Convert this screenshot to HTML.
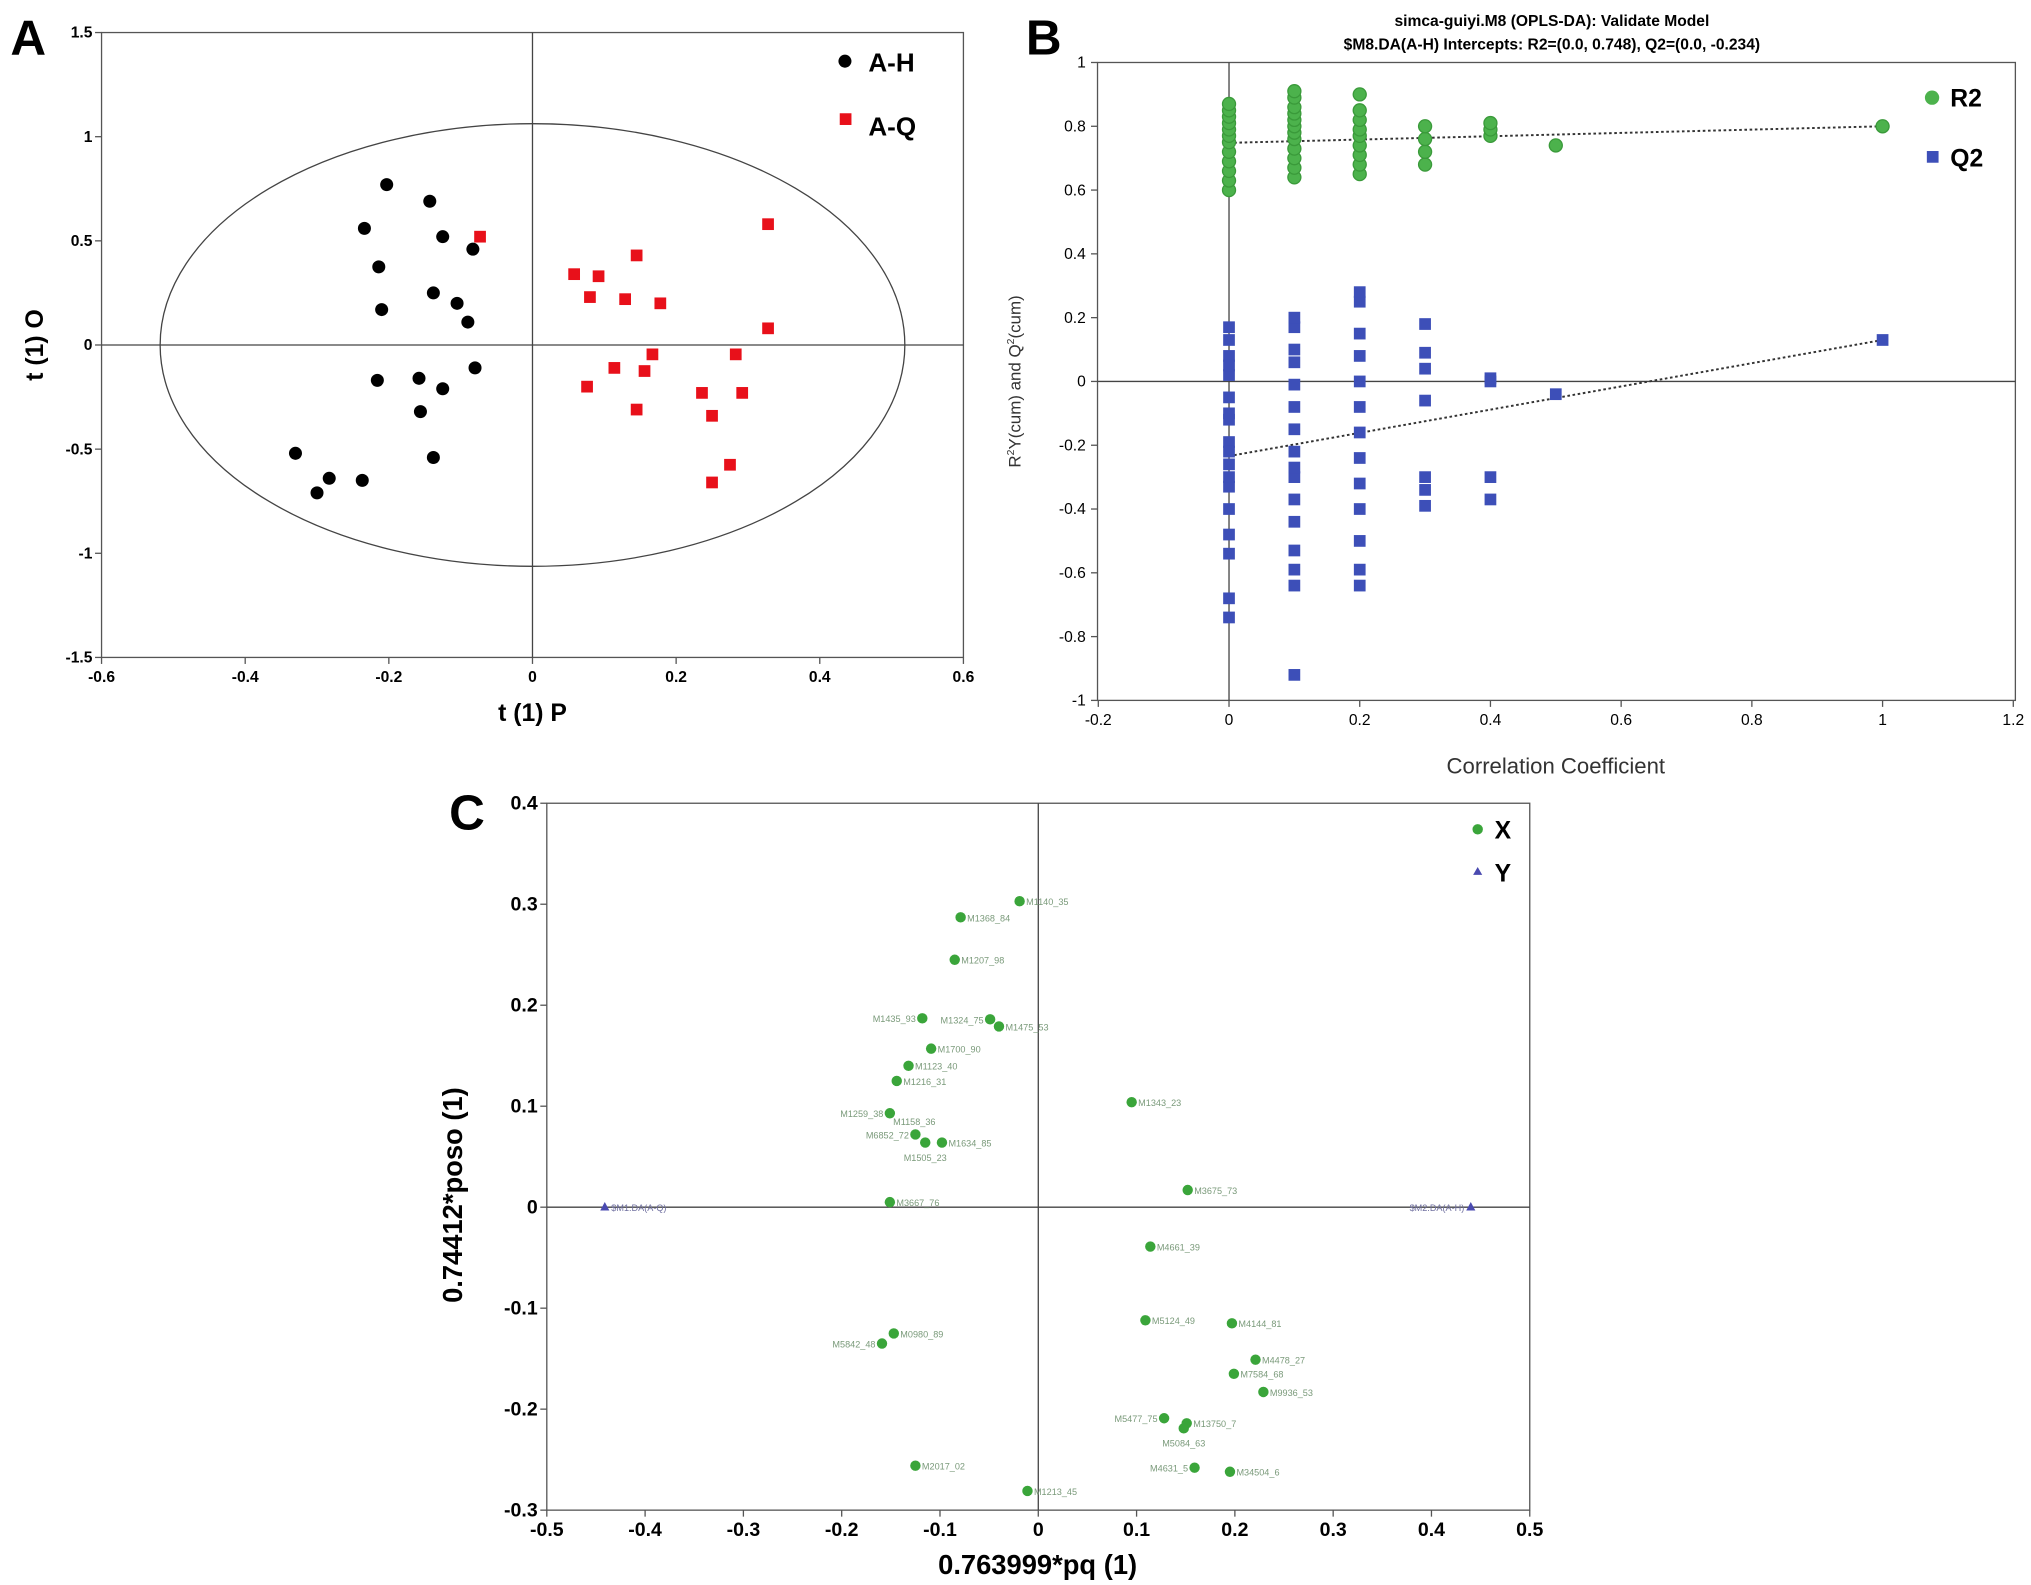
<!DOCTYPE html>
<html><head><meta charset="utf-8"><style>
html,body{margin:0;padding:0;background:#fff;}
svg{display:block;font-family:"Liberation Sans",sans-serif;}
</style></head><body>
<svg id="fig" width="2031" height="1585" viewBox="0 0 1560 1217.5" preserveAspectRatio="none" xmlns="http://www.w3.org/2000/svg"></svg>
<script>
// ---- Panel A data ----
const aH_x=[-0.203,-0.143,-0.234,-0.125,-0.083,-0.214,-0.138,-0.105,-0.21,-0.09,-0.08,-0.216,-0.158,-0.125,-0.156,-0.138,-0.33,-0.283,-0.237,-0.3];
const aH_y=[0.77,0.69,0.56,0.52,0.46,0.375,0.25,0.2,0.17,0.11,-0.11,-0.17,-0.16,-0.21,-0.32,-0.54,-0.52,-0.64,-0.65,-0.71];
const aQ_x=[-0.073,0.058,0.092,0.08,0.145,0.129,0.178,0.328,0.328,0.167,0.283,0.114,0.156,0.076,0.236,0.292,0.145,0.25,0.275,0.25];
const aQ_y=[0.52,0.34,0.33,0.23,0.43,0.22,0.2,0.58,0.08,-0.045,-0.045,-0.11,-0.125,-0.2,-0.23,-0.23,-0.31,-0.34,-0.575,-0.66];
const aXTicks=[-0.6,-0.4,-0.2,0,0.2,0.4,0.6];
const aYTicks=[-1.5,-1,-0.5,0,0.5,1,1.5];
// ---- Panel B data ----
const bR2_x=[0,0,0,0,0,0,0,0,0,0,0,0,0.1,0.1,0.1,0.1,0.1,0.1,0.1,0.1,0.1,0.1,0.1,0.1,0.2,0.2,0.2,0.2,0.2,0.2,0.2,0.2,0.2,0.3,0.3,0.3,0.3,0.4,0.4,0.4,0.5,1];
const bR2_y=[0.6,0.63,0.66,0.69,0.72,0.75,0.77,0.79,0.81,0.83,0.85,0.87,0.64,0.67,0.7,0.73,0.76,0.78,0.8,0.82,0.84,0.86,0.89,0.91,0.65,0.68,0.71,0.74,0.77,0.79,0.82,0.85,0.9,0.68,0.72,0.76,0.8,0.77,0.79,0.81,0.74,0.8];
const bQ2_x=[0,0,0,0,0,0,0,0,0,0,0,0,0,0,0,0,0,0,0.1,0.1,0.1,0.1,0.1,0.1,0.1,0.1,0.1,0.1,0.1,0.1,0.1,0.1,0.1,0.1,0.2,0.2,0.2,0.2,0.2,0.2,0.2,0.2,0.2,0.2,0.2,0.2,0.2,0.3,0.3,0.3,0.3,0.3,0.3,0.3,0.4,0.4,0.4,0.4,0.5,1];
const bQ2_y=[-0.74,-0.68,-0.54,-0.48,-0.4,-0.33,-0.26,-0.19,-0.12,-0.05,0.02,0.08,0.13,0.17,-0.1,-0.22,-0.3,0.05,-0.92,-0.64,-0.59,-0.53,-0.44,-0.37,-0.3,-0.22,-0.15,-0.08,-0.01,0.06,0.1,0.17,0.2,-0.27,-0.64,-0.59,-0.5,-0.4,-0.32,-0.24,-0.16,-0.08,0.0,0.08,0.15,0.25,0.28,-0.39,-0.34,-0.3,-0.06,0.04,0.09,0.18,0.01,0.0,-0.3,-0.37,-0.04,0.13];
const bR2_line=[0.748,0.80];
const bQ2_line=[-0.234,0.13];
const bXTicks=[-0.2,0,0.2,0.4,0.6,0.8,1,1.2];
const bYTicks=[-1,-0.8,-0.6,-0.4,-0.2,0,0.2,0.4,0.6,0.8,1];
// ---- Panel C data ----
const cNames=["M1140_35","M1368_84","M1207_98","M1435_93","M1324_75","M1475_53","M1700_90","M1123_40","M1216_31","M1259_38","M6852_72","M1505_23","M1634_85","M1343_23","M3675_73","M3667_76","M4661_39","M5124_49","M4144_81","M4478_27","M7584_68","M9936_53","M5477_75","M13750_7","M5084_63","M4631_5","M34504_6","M0980_89","M5842_48","M2017_02","M1213_45"];
const cX=[-0.019,-0.079,-0.085,-0.118,-0.049,-0.04,-0.109,-0.132,-0.144,-0.151,-0.125,-0.115,-0.098,0.095,0.152,-0.151,0.114,0.109,0.197,0.221,0.199,0.229,0.128,0.151,0.148,0.159,0.195,-0.147,-0.159,-0.125,-0.011];
const cY=[0.303,0.287,0.245,0.187,0.186,0.179,0.157,0.14,0.125,0.093,0.072,0.064,0.064,0.104,0.017,0.005,-0.039,-0.112,-0.115,-0.151,-0.165,-0.183,-0.209,-0.214,-0.219,-0.258,-0.262,-0.125,-0.135,-0.256,-0.281];
const cLabelSide=["r","r","r","l","l","r","r","r","r","l","l","b","r","r","r","r","r","r","r","r","r","r","l","r","b","l","r","r","l","r","r"];
const cYNames=["$M1.DA(A-Q)","$M2.DA(A-H)"];
const cYx=[-0.441,0.44];
const cYy=[0,0];
const cXTicks=[-0.5,-0.4,-0.3,-0.2,-0.1,0,0.1,0.2,0.3,0.4,0.5];
const cYTicks=[-0.3,-0.2,-0.1,0,0.1,0.2,0.3,0.4];

const NS="http://www.w3.org/2000/svg";
const svg=document.getElementById('fig');
function mk(tag,attrs,parent,text){const e=document.createElementNS(NS,tag);for(const k in attrs)e.setAttribute(k,attrs[k]);if(text!==undefined)e.textContent=text;(parent||svg).appendChild(e);return e;}
function scale(d0,d1,p0,p1){return v=>p0+(v-d0)/(d1-d0)*(p1-p0);}
function fmt(v){return String(Math.round(v*10)/10);}

// ===== Panel A =====
const gA=mk('g',{});


const ax=scale(-0.6,0.6,78,740), ay=scale(-1.5,1.5,505,25);
let t=mk('text',{x:8,y:42,'font-size':38,'font-weight':'bold'},gA,'A');

let r=mk('rect',{x:78,y:25,width:662,height:480,fill:'none',stroke:'#555','stroke-width':1},gA);

mk('line',{x1:ax(0),y1:25,x2:ax(0),y2:505,stroke:'#444','stroke-width':1},gA);
mk('line',{x1:78,y1:ay(0),x2:740,y2:ay(0),stroke:'#444','stroke-width':1},gA);
let el=mk('ellipse',{cx:ax(0),cy:ay(0),rx:286,ry:170,fill:'none',stroke:'#444','stroke-width':1},gA);

aXTicks.forEach(v=>{mk('line',{x1:ax(v),y1:505,x2:ax(v),y2:510,stroke:'#555'},gA);
 const tt=mk('text',{x:ax(v),y:524,'font-size':12,'text-anchor':'middle','font-weight':'bold'},gA,fmt(v));
 });
aYTicks.forEach(v=>{mk('line',{x1:73,y1:ay(v),x2:78,y2:ay(v),stroke:'#555'},gA);
 const tt=mk('text',{x:71,y:ay(v)+4,'font-size':12,'text-anchor':'end','font-weight':'bold'},gA,fmt(v));
 });
t=mk('text',{x:409,y:554,'font-size':19,'font-weight':'bold','text-anchor':'middle'},gA,'t (1) P');

t=mk('text',{x:0,y:0,'font-size':19,'font-weight':'bold','text-anchor':'middle',transform:'translate(33,265) rotate(-90)'},gA,'t (1) O');

aH_x.forEach((v,i)=>{const c=mk('circle',{cx:ax(v),cy:ay(aH_y[i]),r:5,fill:'#000'},gA);
 });
aQ_x.forEach((v,i)=>{const c=mk('rect',{x:ax(v)-4.5,y:ay(aQ_y[i])-4.5,width:9,height:9,fill:'#e8101a'},gA);
 });
let lg=mk('g',{},gA);
mk('circle',{cx:649,cy:47,r:5,fill:'#000'},lg);
mk('text',{x:667,y:55,'font-size':20,'font-weight':'bold'},lg,'A-H');
mk('rect',{x:645,y:87,width:9,height:9,fill:'#e8101a'},lg);
mk('text',{x:667,y:104,'font-size':20,'font-weight':'bold'},lg,'A-Q');

// ===== Panel B =====
const gB=mk('g',{});


const bx=scale(0,1,944,1446), by=scale(-1,1,538,48);
t=mk('text',{x:788,y:42,'font-size':38,'font-weight':'bold'},gB,'B');

t=mk('text',{x:1192,y:20,'font-size':12,'font-weight':'bold','text-anchor':'middle'},gB,'simca-guiyi.M8 (OPLS-DA): Validate Model');

t=mk('text',{x:1192,y:38,'font-size':12,'font-weight':'bold','text-anchor':'middle'},gB,'$M8.DA(A-H) Intercepts: R2=(0.0, 0.748), Q2=(0.0, -0.234)');

r=mk('rect',{x:843,y:48,width:705,height:490,fill:'none',stroke:'#555'},gB);

mk('line',{x1:bx(0),y1:48,x2:bx(0),y2:538,stroke:'#444'},gB);
mk('line',{x1:843,y1:by(0),x2:1548,y2:by(0),stroke:'#444'},gB);
bXTicks.forEach(v=>{mk('line',{x1:bx(v),y1:538,x2:bx(v),y2:543,stroke:'#555'},gB);
 const tt=mk('text',{x:bx(v),y:557,'font-size':12,'text-anchor':'middle'},gB,fmt(v));
 });
bYTicks.forEach(v=>{mk('line',{x1:838,y1:by(v),x2:843,y2:by(v),stroke:'#555'},gB);
 const tt=mk('text',{x:834,y:by(v)+4,'font-size':12,'text-anchor':'end'},gB,fmt(v));
 });
t=mk('text',{x:1195,y:594,'font-size':17,'text-anchor':'middle',fill:'#333'},gB,'Correlation Coefficient');

t=mk('text',{x:0,y:0,'font-size':13,'text-anchor':'middle',fill:'#333',transform:'translate(784,293) rotate(-90)'},gB);
t.innerHTML='R<tspan font-size="8" dy="-5">2</tspan><tspan dy="5">Y(cum) and Q</tspan><tspan font-size="8" dy="-5">2</tspan><tspan dy="5">(cum)</tspan>';

let ln=mk('line',{x1:bx(0),y1:by(bR2_line[0]),x2:bx(1),y2:by(bR2_line[1]),stroke:'#333','stroke-width':1.5,'stroke-dasharray':'2,2'},gB);

ln=mk('line',{x1:bx(0),y1:by(bQ2_line[0]),x2:bx(1),y2:by(bQ2_line[1]),stroke:'#333','stroke-width':1.5,'stroke-dasharray':'2,2'},gB);

bR2_x.forEach((v,i)=>{const c=mk('circle',{cx:bx(v),cy:by(bR2_y[i]),r:5,fill:'#4cb24c',stroke:'#3a9a3a'},gB);
 });
bQ2_x.forEach((v,i)=>{const c=mk('rect',{x:bx(v)-4.5,y:by(bQ2_y[i])-4.5,width:9,height:9,fill:'#3d4fb8'},gB);
 });
lg=mk('g',{},gB);
mk('circle',{cx:1484,cy:75,r:5.5,fill:'#4cb24c'},lg);
mk('text',{x:1498,y:82,'font-size':19,'font-weight':'bold'},lg,'R2');
mk('rect',{x:1480,y:116,width:9,height:9,fill:'#3d4fb8'},lg);
mk('text',{x:1498,y:128,'font-size':19,'font-weight':'bold'},lg,'Q2');

// ===== Panel C =====
const gC=mk('g',{});


const cx=scale(-0.5,0.5,420,1175), cy=scale(-0.3,0.4,1160,617);
t=mk('text',{x:345,y:637,'font-size':38,'font-weight':'bold'},gC,'C');

r=mk('rect',{x:420,y:617,width:755,height:543,fill:'none',stroke:'#555'},gC);

mk('line',{x1:cx(0),y1:617,x2:cx(0),y2:1160,stroke:'#444'},gC);
mk('line',{x1:420,y1:cy(0),x2:1175,y2:cy(0),stroke:'#444'},gC);
cXTicks.forEach(v=>{mk('line',{x1:cx(v),y1:1160,x2:cx(v),y2:1165,stroke:'#555'},gC);
 const tt=mk('text',{x:cx(v),y:1180,'font-size':15,'font-weight':'bold','text-anchor':'middle'},gC,fmt(v));
 });
cYTicks.forEach(v=>{mk('line',{x1:415,y1:cy(v),x2:420,y2:cy(v),stroke:'#555'},gC);
 const tt=mk('text',{x:413,y:cy(v)+5,'font-size':15,'font-weight':'bold','text-anchor':'end'},gC,fmt(v));
 });
t=mk('text',{x:797,y:1209,'font-size':21,'font-weight':'bold','text-anchor':'middle'},gC,'0.763999*pq (1)');

t=mk('text',{x:0,y:0,'font-size':21,'font-weight':'bold','text-anchor':'middle',transform:'translate(355,918) rotate(-90)'},gC,'0.74412*poso (1)');

cX.forEach((v,i)=>{const px=cx(v),py=cy(cY[i]);
 const c=mk('circle',{cx:px,cy:py,r:4,fill:'#3aa53a'},gC);
 
 const s=cLabelSide[i];
 const at= s==='r'?{x:px+5,y:py+3,'text-anchor':'start'}: s==='l'?{x:px-5,y:py+3,'text-anchor':'end'}:{x:px,y:py+14,'text-anchor':'middle'};
 at['font-size']=7;at.fill='#7a9a7a';
 const tl=mk('text',at,gC,cNames[i]);
 });
mk('text',{x:686,y:864,'font-size':7,fill:'#7a9a7a'},gC,'M1158_36');
cYx.forEach((v,i)=>{const px=cx(v),py=cy(cYy[i]);
 const p=mk('polygon',{points:`${px},${py-4} ${px-3.5},${py+2.5} ${px+3.5},${py+2.5}`,fill:'#4a4ab0'},gC);
 
 const tl=mk('text',i===0?{x:px+5,y:py+3,'font-size':7,fill:'#7070a0'}:{x:px-5,y:py+3,'font-size':7,fill:'#7070a0','text-anchor':'end'},gC,cYNames[i]);
 });
lg=mk('g',{},gC);
mk('circle',{cx:1135,cy:637,r:4,fill:'#3aa53a'},lg);
mk('text',{x:1148,y:644,'font-size':19,'font-weight':'bold'},lg,'X');
mk('polygon',{points:'1135,666 1131.5,672 1138.5,672',fill:'#4a4ab0'},lg);
mk('text',{x:1148,y:677,'font-size':19,'font-weight':'bold'},lg,'Y');
</script>
</body></html>
